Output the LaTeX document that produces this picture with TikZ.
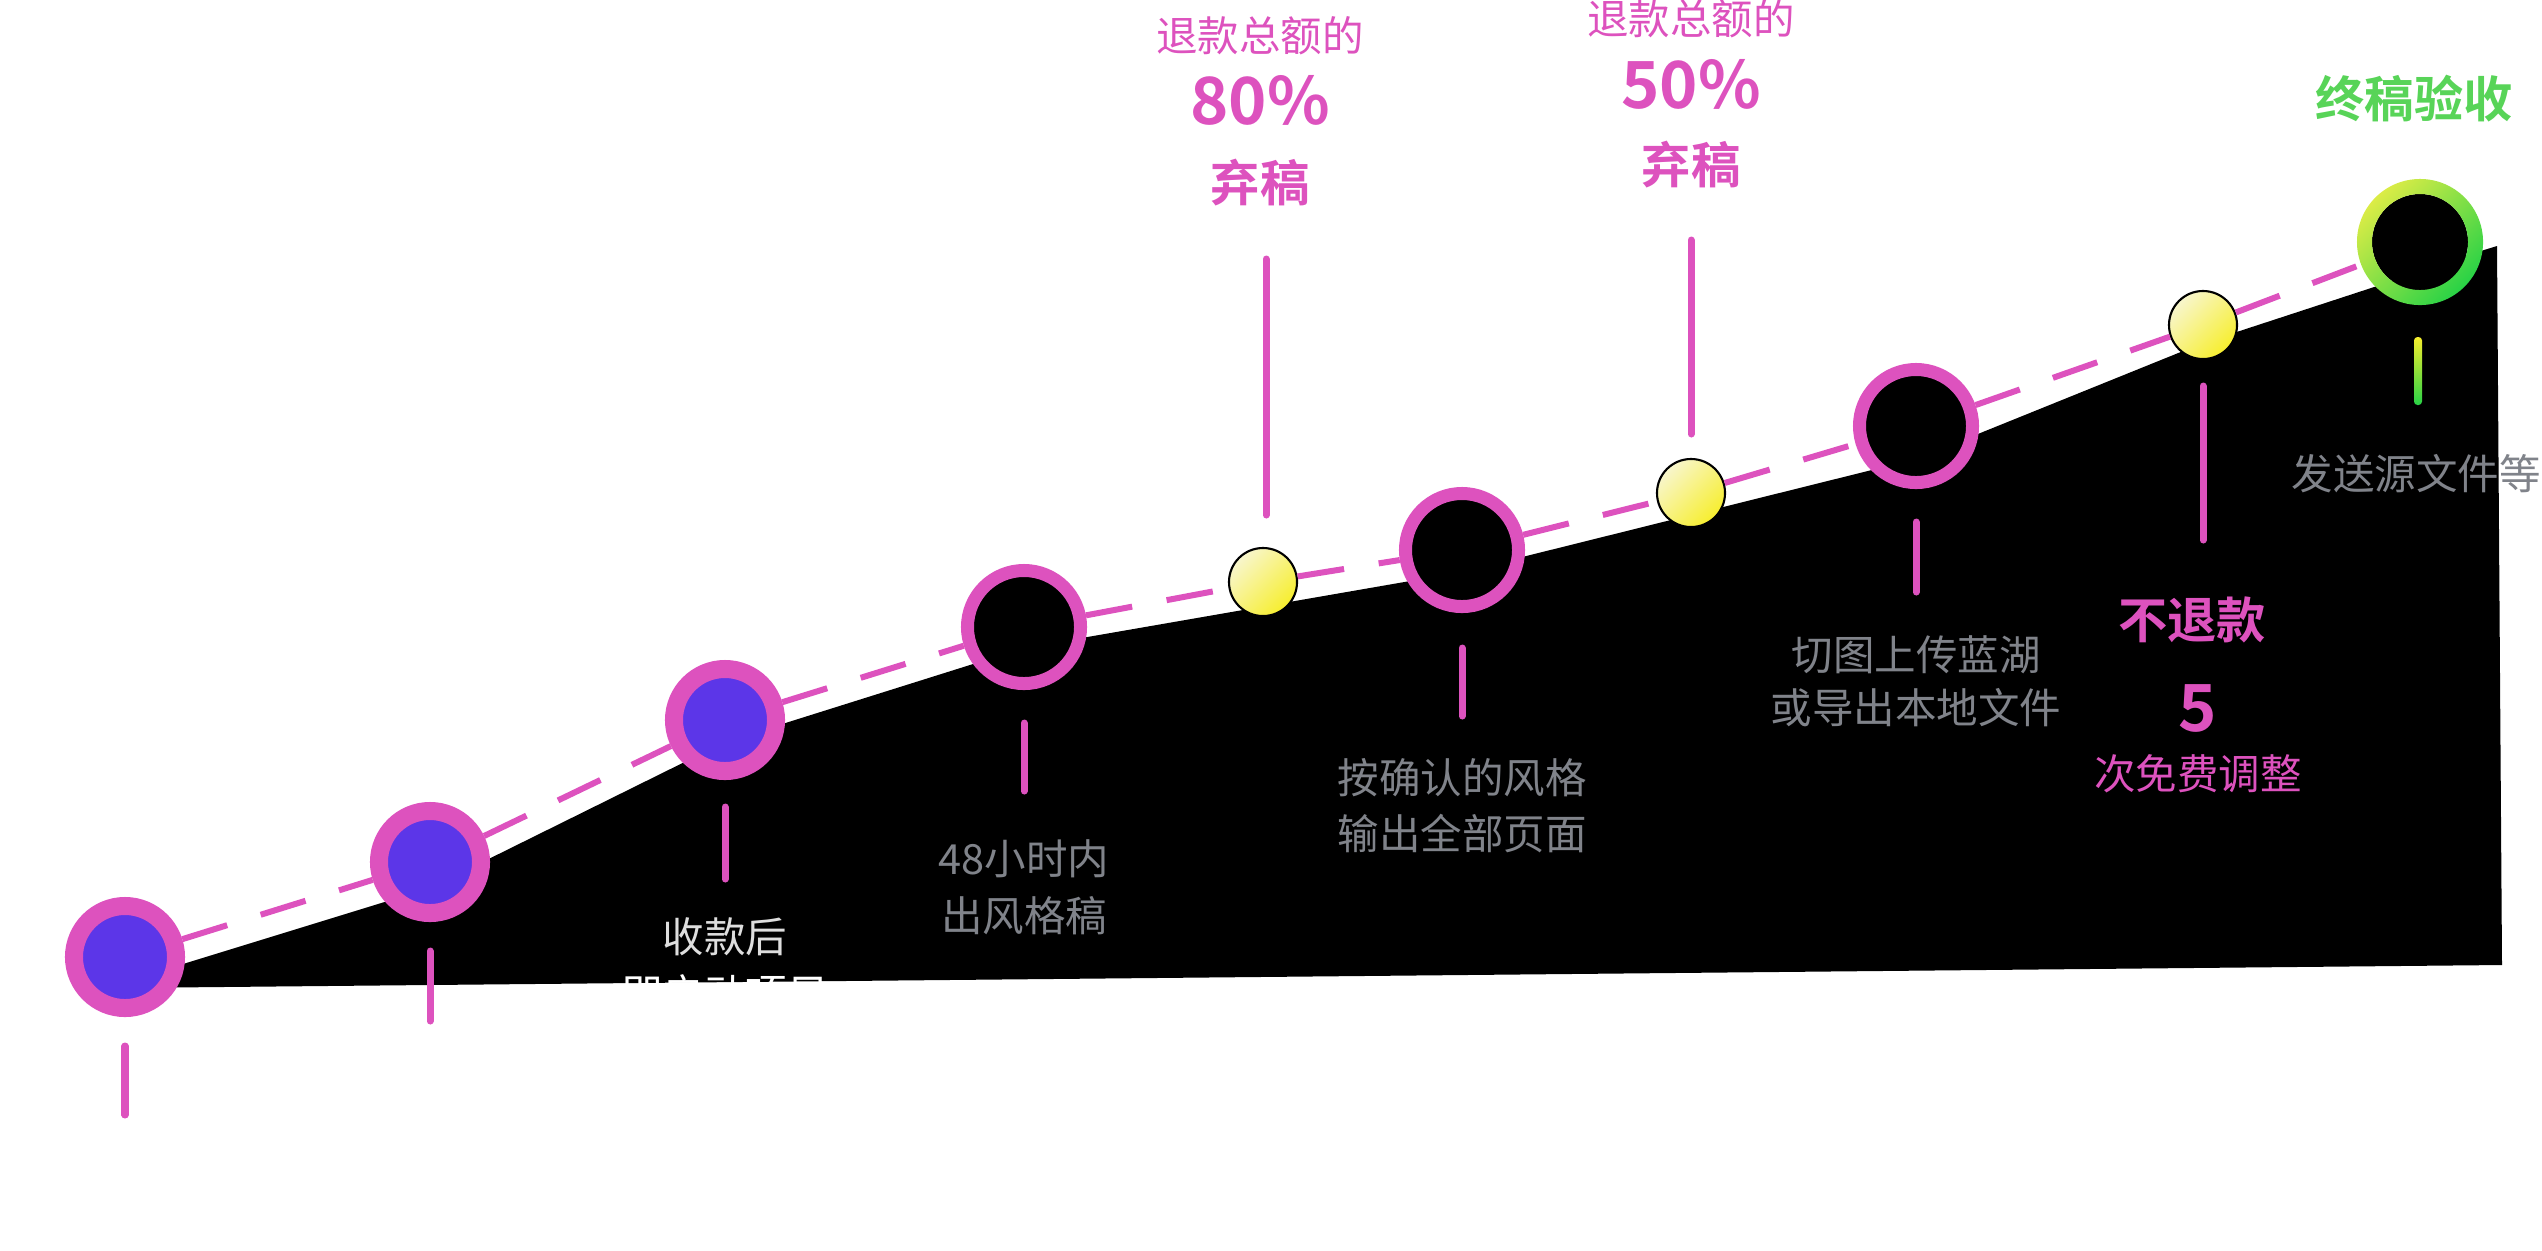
\documentclass[tikz,border=0pt]{standalone}
\usepackage{fontspec}
\setmainfont{Noto Sans CJK SC}[BoldFont={Noto Sans CJK SC Bold}]
\usetikzlibrary{positioning}

\definecolor{rose}{RGB}{221,82,190}
\definecolor{violet}{RGB}{92,54,232}
\definecolor{gris}{RGB}{128,131,138}
\definecolor{clair}{RGB}{222,222,222}
\definecolor{vert}{RGB}{88,212,88}
\definecolor{vertfonce}{RGB}{40,210,70}
\definecolor{jaunevert}{RGB}{220,236,70}
\definecolor{jaunepale}{RGB}{248,246,205}
\definecolor{jaune}{RGB}{247,238,45}

\tikzset{
  etape/.style={circle, draw=rose, line width=0.18cm, fill=violet, minimum size=1.02cm, inner sep=0pt},
  jalon/.style={circle, draw=rose, line width=0.13cm, fill=black, minimum size=1.13cm, inner sep=0pt},
  bille/.style={circle, draw=black, line width=0.6pt, top color=jaunepale, bottom color=jaune, shading angle=45, minimum size=0.68cm, inner sep=0pt},
  tiret/.style={rose, line width=0.06cm, dash pattern=on 0.47cm off 0.35cm},
  tige/.style={rose, line width=0.07cm, line cap=round},
  txt/.style={text=gris, font=\fontsize{11.8}{14}\selectfont, inner sep=0pt},
  txtclair/.style={text=clair, font=\fontsize{11.8}{14}\selectfont, inner sep=0pt},
  txtrose/.style={text=rose, font=\fontsize{11.8}{14}\selectfont, inner sep=0pt},
  gros/.style={text=rose, font=\bfseries\fontsize{18.5}{22}\selectfont, inner sep=0pt},
  moyen/.style={text=rose, font=\bfseries\fontsize{14}{17}\selectfont, inner sep=0pt},
}

\begin{document}
\begin{tikzpicture}[x=0.01cm,y=-0.01cm]
% cadre : 2542 x 1250 (pixels de l'image)
\useasboundingbox (0,0) rectangle (2542,1250);

% la pente noire
\fill[black] (118,988) -- (118,984) -- (430,888) -- (725,742) -- (1024,648) -- (1462,572)
  -- (1916,459) -- (2203,343) -- (2420,272) -- (2484,250) -- (2497,246) -- (2502,965) -- cycle;

% les etapes
\node[etape] (c1) at (125,957) {};
\node[etape] (c2) at (430,862) {};
\node[etape] (c3) at (725,720) {};
\node[jalon] (c4) at (1024,627) {};
\node[bille] (y1) at (1263,582) {};
\node[jalon] (c5) at (1462,550) {};
\node[bille] (y2) at (1691,493) {};
\node[jalon] (c6) at (1916,426) {};
\node[bille] (y3) at (2203,325) {};
\node[circle, fill=black, minimum size=0.96cm, inner sep=0pt, outer sep=0.15cm] (g) at (2420,242) {};
\shade[even odd rule, top color=jaunevert, bottom color=vertfonce, shading angle=45]
  (g.center) circle[radius=0.63cm] (g.center) circle[radius=0.48cm];

% pointilles entre les etapes
\foreach \a/\b in {c1/c2,c2/c3,c3/c4,c4/y1,y1/c5,c5/y2,y2/c6,c6/y3,y3/g}
  \draw[tiret] (\a) -- (\b);

% les tiges
\foreach \n/\x/\ya/\yb in {1/125/1046/1115, 2/430/951/1021, 3/725/807/879, 4/1024/723/791,
    5/1266/259/515, 6/1462/648/716, 7/1691/240/434, 8/1916/522/592, 9/2203/386/540} {
  \coordinate (h\n) at (\x,\ya);
  \coordinate (b\n) at (\x,\yb);
  \draw[tige] (h\n) -- (b\n);
}
\shade[top color=jaune, bottom color=vertfonce, rounded corners=0.035cm] (2414,337) rectangle (2422,405);

% textes
\node[txtclair] (t1a) at (725,937) {收款后};
\node[txtclair, text=white] (t1b) at (725,994) {即启动项目};
\node[txt] (t2a) at (1024,859) {48小时内};
\node[txt] (t2b) at (1024,916) {出风格稿};
\node[txt] (t3a) at (1462,778) {按确认的风格};
\node[txt] (t3b) at (1462,834) {输出全部页面};
\node[txt] (t4a) at (1916,655) {切图上传蓝湖};
\node[txt] (t4b) at (1916,708) {或导出本地文件};
\node[txt] (t5) at (2416,474) {发送源文件等};

\node[txtrose] (r1a) at (1260,36) {退款总额的};
\node[gros] (r1b) at (1260,100) {80\%};
\node[moyen] (r1c) at (1260,183) {弃稿};
\node[txtrose] (r2a) at (1691,19) {退款总额的};
\node[gros] (r2b) at (1691,84) {50\%};
\node[moyen] (r2c) at (1691,165) {弃稿};
\node[moyen] (r3a) at (2192,620) {不退款};
\node[gros] (r3b) at (2198,708) {5};
\node[txtrose] (r3c) at (2198,774) {次免费调整};

\node[moyen, text=vert] (fin) at (2414,99) {终稿验收};
\end{tikzpicture}
\end{document}
